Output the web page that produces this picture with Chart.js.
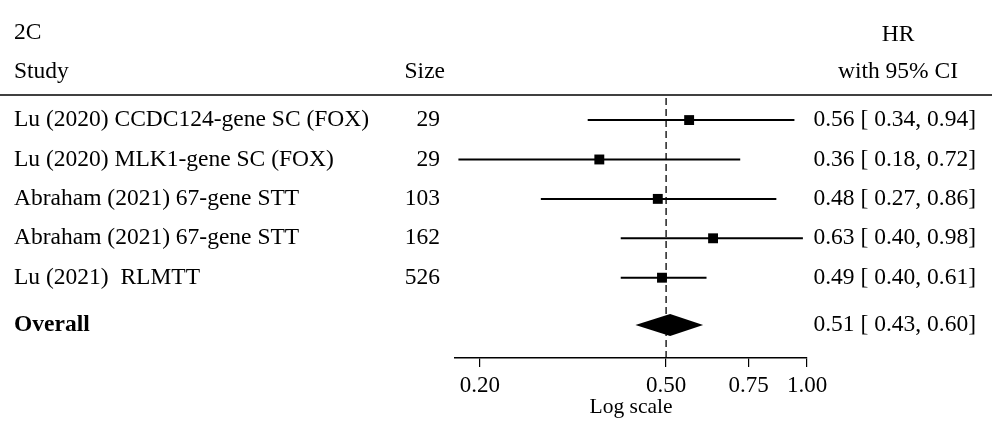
<!DOCTYPE html>
<html>
<head>
<meta charset="utf-8">
<script src="https://cdn.jsdelivr.net/npm/chart.js@4.4.1/dist/chart.umd.min.js"></script>
<style>
    html, body { margin: 0; padding: 0; background: #fff; }
    #wrap { width: 997px; height: 423px; }
</style>
</head>
<body>
<div id="wrap"><canvas id="forestChart" width="997" height="423"></canvas></div>
<script>
const studies = [
    'Lu (2020) CCDC124-gene SC (FOX)',
    'Lu (2020) MLK1-gene SC (FOX)',
    'Abraham (2021) 67-gene STT',
    'Abraham (2021) 67-gene STT',
    'Lu (2021)  RLMTT'
];
const sizes = [29, 29, 103, 162, 526];
const hr = [0.56, 0.36, 0.48, 0.63, 0.49];
const ciLow = [0.34, 0.18, 0.27, 0.40, 0.40];
const ciHigh = [0.94, 0.72, 0.86, 0.98, 0.61];

const overallLabel = 'Overall';
const overallHr = 0.51;
const overallLow = 0.43;
const overallHigh = 0.60;

const tickValues = [0.20, 0.50, 0.75, 1.00];
const refLine = 0.50;

const FONT = "'Liberation Serif', 'Times New Roman', serif";
const TEXT_SIZE = 23.5;
const overallRow = studies.length + 1.2;

function ciText(e, lo, hi) {
    return `${e.toFixed(2)} [ ${lo.toFixed(2)}, ${hi.toFixed(2)}]`;
}

// CI whiskers as two-point line datasets
const ciSets = studies.map((s, i) => ({
    label: s,
    data: [{ x: ciLow[i], y: i + 1 }, { x: ciHigh[i], y: i + 1 }],
    showLine: true,
    borderColor: '#000',
    borderWidth: 2,
    pointRadius: 0,
    order: 2
}));

const forestPlugin = {
    id: 'forestText',
    beforeDatasetsDraw(chart) {
        const { ctx, chartArea, scales: { x } } = chart;
        // reference line
        const rx = x.getPixelForValue(refLine);
        ctx.save();
        ctx.strokeStyle = '#000';
        ctx.lineWidth = 1.3;
        ctx.setLineDash([7, 4]);
        ctx.beginPath();
        ctx.moveTo(rx, chartArea.top);
        ctx.lineTo(rx, chartArea.bottom);
        ctx.stroke();
        ctx.restore();
    },
    afterDatasetsDraw(chart) {
        const { ctx, scales: { x, y } } = chart;
        ctx.save();
        ctx.fillStyle = '#000';

        // overall diamond
        const yc = y.getPixelForValue(overallRow);
        ctx.beginPath();
        ctx.moveTo(x.getPixelForValue(overallLow), yc);
        ctx.lineTo(x.getPixelForValue(overallHr), yc - 11);
        ctx.lineTo(x.getPixelForValue(overallHigh), yc);
        ctx.lineTo(x.getPixelForValue(overallHr), yc + 11);
        ctx.closePath();
        ctx.fill();

        // header
        ctx.font = `${TEXT_SIZE}px ${FONT}`;
        ctx.textBaseline = 'middle';
        ctx.textAlign = 'left';
        ctx.fillText('2C', 14, 33);
        ctx.fillText('Study', 14, 72);
        ctx.textAlign = 'right';
        ctx.fillText('Size', 445, 72);
        ctx.textAlign = 'center';
        ctx.fillText('HR', 898, 35);
        ctx.fillText('with 95% CI', 898, 72);

        ctx.lineWidth = 1.5;
        ctx.strokeStyle = '#000';
        ctx.beginPath();
        ctx.moveTo(0, 95);
        ctx.lineTo(992, 95);
        ctx.stroke();

        // rows
        studies.forEach((s, i) => {
            const py = y.getPixelForValue(i + 1);
            ctx.textAlign = 'left';
            ctx.fillText(s, 14, py);
            ctx.textAlign = 'right';
            ctx.fillText(String(sizes[i]), 440, py);
            ctx.fillText(ciText(hr[i], ciLow[i], ciHigh[i]), 976, py);
        });

        ctx.textAlign = 'left';
        ctx.font = `bold ${TEXT_SIZE}px ${FONT}`;
        ctx.fillText(overallLabel, 14, yc);
        ctx.font = `${TEXT_SIZE}px ${FONT}`;
        ctx.textAlign = 'right';
        ctx.fillText(ciText(overallHr, overallLow, overallHigh), 976, yc);
        ctx.restore();
    }
};

new Chart(document.getElementById('forestChart'), {
    type: 'scatter',
    data: {
        datasets: [
            {
                label: 'HR',
                data: hr.map((v, i) => ({ x: v, y: i + 1 })),
                pointStyle: 'rect',
                pointRadius: 7,
                pointHoverRadius: 7,
                backgroundColor: '#000',
                borderColor: '#000',
                borderWidth: 0,
                order: 1
            },
            ...ciSets
        ]
    },
    options: {
        responsive: false,
        animation: false,
        layout: {
            padding: { left: 455, right: 190, top: 98, bottom: 3 }
        },
        plugins: {
            legend: { display: false },
            tooltip: { enabled: false }
        },
        scales: {
            x: {
                type: 'logarithmic',
                min: 0.177,
                max: 1.0,
                afterBuildTicks: axis => {
                    axis.ticks = tickValues.map(v => ({ value: v }));
                },
                ticks: {
                    color: '#000',
                    font: { family: FONT, size: 23 },
                    padding: 5,
                    maxRotation: 0,
                    autoSkip: false,
                    callback: v => Number(v).toFixed(2)
                },
                grid: {
                    drawOnChartArea: false,
                    drawTicks: true,
                    tickLength: 9,
                    color: '#000',
                    lineWidth: 1.2
                },
                border: { display: true, color: '#000', width: 1.5 },
                title: {
                    display: true,
                    text: 'Log scale',
                    color: '#000',
                    font: { family: FONT, size: 21.5 },
                    padding: { top: -10.5, bottom: 0 }
                }
            },
            y: {
                display: false,
                reverse: true,
                min: 0.44,
                max: 7.04
            }
        }
    },
    plugins: [forestPlugin]
});
</script>
</body>
</html>
